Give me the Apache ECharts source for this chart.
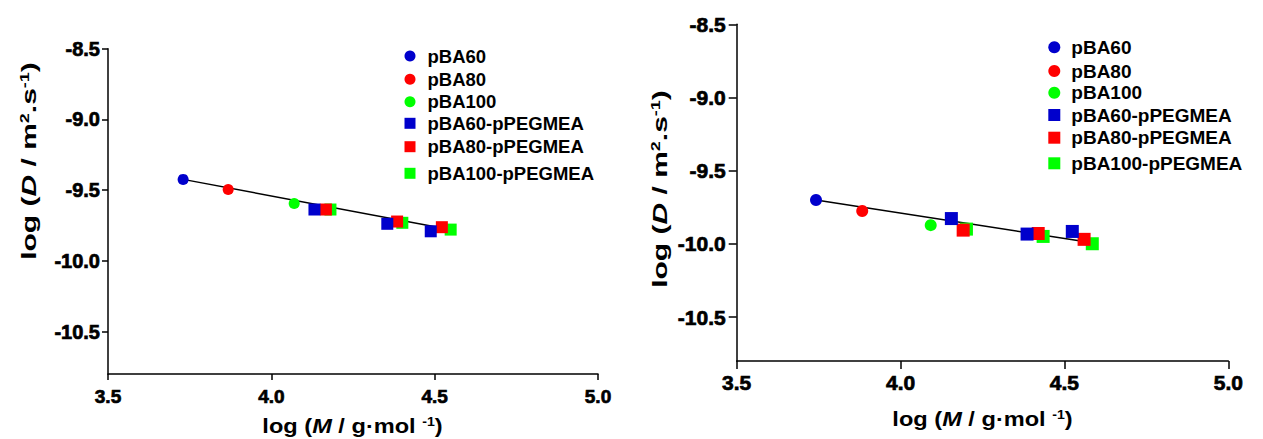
<!DOCTYPE html>
<html>
<head>
<meta charset="utf-8">
<script src="https://cdn.jsdelivr.net/npm/echarts@6/dist/echarts.min.js"></script>
<style>html,body{margin:0;padding:0;background:#fff;}#c{width:1263px;height:439px;}</style>
</head>
<body>
<div id="c"></div>
<script>
// ---- data ----
const seriesNames = ['pBA60', 'pBA80', 'pBA100', 'pBA60-pPEGMEA', 'pBA80-pPEGMEA', 'pBA100-pPEGMEA'];
const seriesColors = ['#0000CC', '#FF0000', '#00FF00', '#0000CC', '#FF0000', '#00FF00'];
const seriesSymbols = ['circle', 'circle', 'circle', 'rect', 'rect', 'rect'];

// left panel: log M and log D
const leftX = [[3.730], [3.868], [4.070], [4.132, 4.355, 4.488], [4.167, 4.385, 4.522], [4.181, 4.401, 4.549]];
const leftY = [[-9.424], [-9.495], [-9.594], [-9.637, -9.738, -9.791], [-9.637, -9.722, -9.762], [-9.637, -9.731, -9.779]];
const leftFitX = [3.730, 4.550];
const leftFitY = [-9.424, -9.780];

// right panel
const rightX = [[3.742], [3.883], [4.092], [4.155, 4.386, 4.524], [4.191, 4.420, 4.560], [4.201, 4.435, 4.585]];
const rightY = [[-9.700], [-9.775], [-9.872], [-9.827, -9.933, -9.915], [-9.906, -9.929, -9.969], [-9.899, -9.949, -9.999]];
const rightFitX = [3.742, 4.550];
const rightFitY = [-9.700, -9.980];

const xTicks = [3.5, 4.0, 4.5, 5.0];
const yTicks = [-10.5, -10.0, -9.5, -9.0, -8.5];

// ---- chart ----
const FONT = '"Liberation Sans", Arial, Helvetica, sans-serif';
const zip = (a, b) => a.map((v, i) => [v, b[i]]);

const panels = [
  { grid: { left: 108, top: 48.7, width: 490, height: 325.3 }, xs: leftX, ys: leftY, fx: leftFitX, fy: leftFitY,
    xFont: 19, yFont: 20, xMargin: 13, yMargin: 8, tickLen: 6, circ: 11, sq: 12,
    legendIconX: 410, legendTextGap: 7, legendYs: [56, 79.3, 101.7, 123.3, 146.7, 173.3], legendFont: 18.5, legendIcon: 11,
    xTitle: [352.5, 426], yTitle: [29, 161] },
  { grid: { left: 736.7, top: 24.3, width: 491.6, height: 336.7 }, xs: rightX, ys: rightY, fx: rightFitX, fy: rightFitY,
    xFont: 21, yFont: 21, xMargin: 11, yMargin: 11, tickLen: 8, circ: 12, sq: 13,
    legendIconX: 1054.3, legendTextGap: 6, legendYs: [47.3, 71, 92.7, 115, 137.7, 163.3], legendFont: 19, legendIcon: 12,
    xTitle: [982.5, 419], yTitle: [660, 189] }
];

const option = {
  animation: false,
  backgroundColor: '#fff',
  grid: [], xAxis: [], yAxis: [], series: [], legend: [], graphic: []
};

const axisLine = { show: true, onZero: false, lineStyle: { color: '#000', width: 1.5 } };
const mkLabel = (size, margin) => ({
  margin: margin, color: '#000', fontWeight: 'bold', fontSize: size, fontFamily: FONT,
  textBorderColor: '#000', textBorderWidth: 0.7,
  formatter: v => Number(v).toFixed(1)
});

panels.forEach((p, k) => {
  option.grid.push(Object.assign({ containLabel: false }, p.grid));
  option.xAxis.push({
    gridIndex: k, type: 'value', min: xTicks[0], max: xTicks[xTicks.length - 1], interval: 0.5,
    axisLine: axisLine, splitLine: { show: false },
    axisTick: { show: true, length: p.tickLen, lineStyle: { color: '#000', width: 1.5 } },
    axisLabel: mkLabel(p.xFont, p.xMargin)
  });
  option.yAxis.push({
    gridIndex: k, type: 'value', min: -10.8, max: -8.5,
    axisLine: axisLine, splitLine: { show: false },
    axisTick: { show: true, length: p.tickLen, customValues: yTicks, lineStyle: { color: '#000', width: 1.5 } },
    axisLabel: Object.assign(mkLabel(p.yFont, p.yMargin), { customValues: yTicks })
  });
  // fitted line
  option.series.push({
    type: 'line', xAxisIndex: k, yAxisIndex: k, data: zip(p.fx, p.fy), symbol: 'none', silent: true,
    lineStyle: { color: '#000', width: 1.5 }, z: 1
  });
  const zOrder = [6, 6, 6, 5, 4, 3];
  seriesNames.forEach((name, i) => {
    option.series.push({
      type: 'scatter', name: name, xAxisIndex: k, yAxisIndex: k,
      symbol: seriesSymbols[i], symbolSize: seriesSymbols[i] === 'circle' ? p.circ : p.sq,
      itemStyle: { color: seriesColors[i], opacity: 1 },
      data: zip(p.xs[i], p.ys[i]), z: zOrder[i]
    });
    option.legend.push({
      data: [name], orient: 'vertical', padding: 0, selectedMode: false,
      left: p.legendIconX - p.legendIcon / 2, top: p.legendYs[i] - 10,
      itemWidth: p.legendIcon, itemHeight: p.legendIcon,
      textStyle: { color: '#000', fontWeight: 'bold', fontSize: p.legendFont, fontFamily: FONT,
                   padding: [0, 0, 0, p.legendTextGap], lineHeight: 20 }
    });
  });
  const rich = {
    n: { fontSize: 20, fontWeight: 'bold', fontFamily: FONT, fill: '#000' },
    i: { fontSize: 20, fontWeight: 'bold', fontStyle: 'italic', fontFamily: FONT, fill: '#000' },
    s: { fontSize: 12, fontWeight: 'bold', fontFamily: FONT, fill: '#000', verticalAlign: 'top', lineHeight: 20 }
  };
  option.graphic.push({
    type: 'text', x: p.xTitle[0], y: p.xTitle[1], silent: true, scaleX: 1.18,
    style: { text: '{n|log (}{i|M}{n| / g·mol }{s|-1}{n|)}', rich: rich, align: 'center', verticalAlign: 'middle' }
  });
  option.graphic.push({
    type: 'text', x: p.yTitle[0], y: p.yTitle[1], rotation: Math.PI / 2, silent: true, scaleX: 1.5,
    style: { text: '{n|log (}{i|D}{n| / m}{s|2}{n|.s}{s|-1}{n|)}', rich: rich, align: 'center', verticalAlign: 'middle' }
  });
});

const chart = echarts.init(document.getElementById('c'), null, { renderer: 'svg', width: 1263, height: 439 });
chart.setOption(option);
</script>
</body>
</html>
